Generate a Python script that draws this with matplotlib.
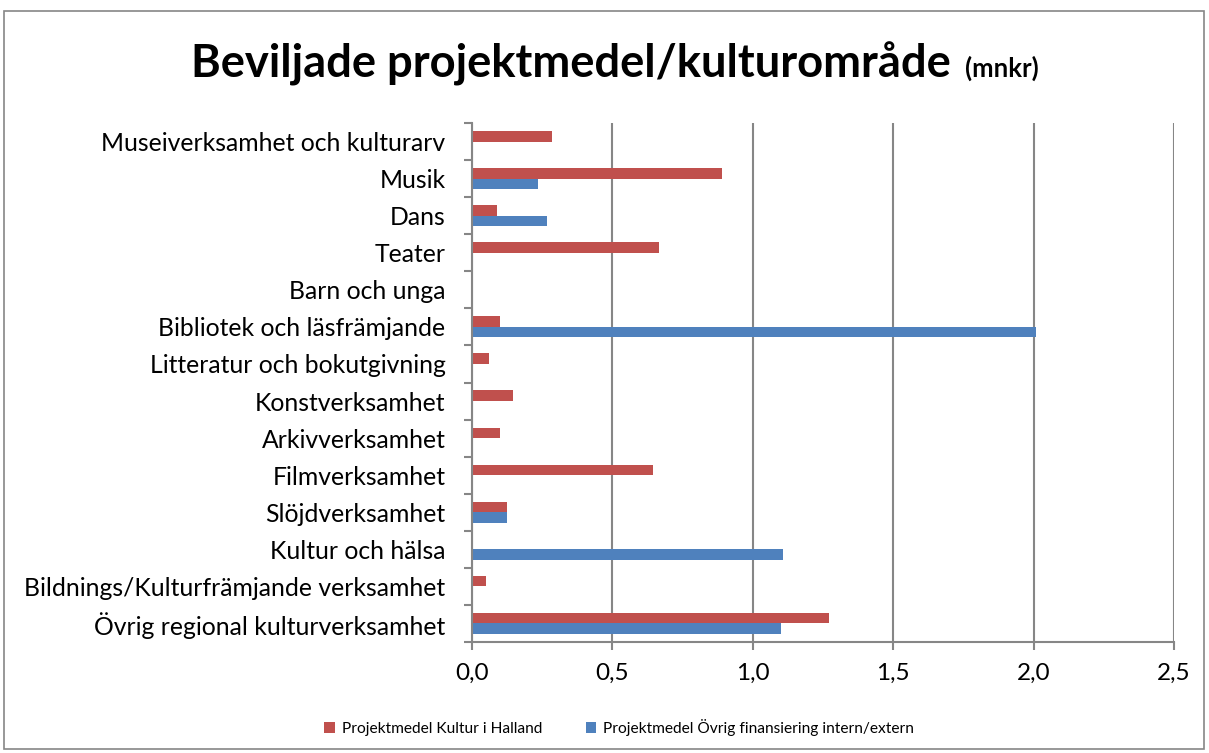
import numpy as np
import matplotlib.pyplot as plt
from matplotlib.patches import Rectangle
from matplotlib.ticker import FuncFormatter

plt.rcParams['font.family'] = ['Lato', 'DejaVu Sans']

categories = ['Museiverksamhet och kulturarv', 'Musik', 'Dans', 'Teater', 'Barn och unga',
              'Bibliotek och läsfrämjande', 'Litteratur och bokutgivning', 'Konstverksamhet',
              'Arkivverksamhet', 'Filmverksamhet', 'Slöjdverksamhet', 'Kultur och hälsa',
              'Bildnings/Kulturfrämjande verksamhet', 'Övrig regional kulturverksamhet']
kultur_halland = [0.285, 0.89, 0.09, 0.665, 0, 0.098, 0.06, 0.146, 0.098, 0.643, 0.125, 0, 0.049, 1.27]
ovrig_fin = [0, 0.234, 0.268, 0, 0, 2.008, 0, 0, 0, 0, 0.126, 1.109, 0, 1.099]
xticks = [0, 0.5, 1.0, 1.5, 2.0, 2.5]

red = '#C0504D'
blue = '#4F81BD'
grey = '#868686'

fig = plt.figure(figsize=(12.09, 7.53), dpi=100)
ax = fig.add_axes([472/1209, 1-642/753, 702/1209, 519/753])

y = np.arange(len(categories))
h = 0.285
ax.barh(y - h/2, kultur_halland, height=h, color=red, label='Projektmedel Kultur i Halland')
ax.barh(y + h/2, ovrig_fin, height=h, color=blue, label='Projektmedel Övrig finansiering intern/extern')

ax.set_ylim(len(categories) - 0.5, -0.5)
ax.set_xlim(0, 2.5)
ax.set_yticks(y)
ax.set_yticklabels(categories, fontsize=17.8)
ax.set_yticks(np.arange(len(categories) + 1) - 0.5, minor=True)
ax.tick_params(axis='y', which='major', length=0, pad=19)
ax.tick_params(axis='y', which='minor', length=6, width=1.5, color=grey, direction='out')

ax.set_xticks(xticks)
ax.xaxis.set_major_formatter(FuncFormatter(lambda v, p: f'{v:.1f}'.replace('.', ',')))
ax.tick_params(axis='x', length=6, width=1.5, color=grey, labelsize=17.5, pad=9)

ax.grid(axis='x', color=grey, linewidth=1.5)
ax.set_axisbelow(True)
for s in ['top', 'right']:
    ax.spines[s].set_visible(False)
for s in ['left', 'bottom']:
    ax.spines[s].set_color(grey)
    ax.spines[s].set_linewidth(1.5)

# title in two sizes, centred as a whole
t1 = fig.text(0, 1-77/753, 'Beviljade projektmedel/kulturområde', fontsize=32.7,
              fontweight='bold', ha='left', va='baseline')
t2 = fig.text(0, 1-77/753, '(mnkr)', fontsize=18.5, fontweight='bold', ha='left', va='baseline')
r = fig.canvas.get_renderer()
w1 = t1.get_window_extent(r).width
w2 = t2.get_window_extent(r).width
gap = 14
x0 = 615 - (w1 + gap + w2) / 2
t1.set_x(x0 / 1209)
t2.set_x((x0 + w1 + gap) / 1209)

fig.legend(loc='center', bbox_to_anchor=(0.512, 1-727/753), ncol=2, frameon=False,
           fontsize=11.2, handlelength=0.7, handleheight=0.7, columnspacing=2.8, handletextpad=0.4)

fig.patches.append(Rectangle((4/1209, 4/753), 1200/1209, 738/753, transform=fig.transFigure,
                             fill=False, edgecolor=grey, linewidth=1.2))

fig.savefig('out.png', dpi=100)
